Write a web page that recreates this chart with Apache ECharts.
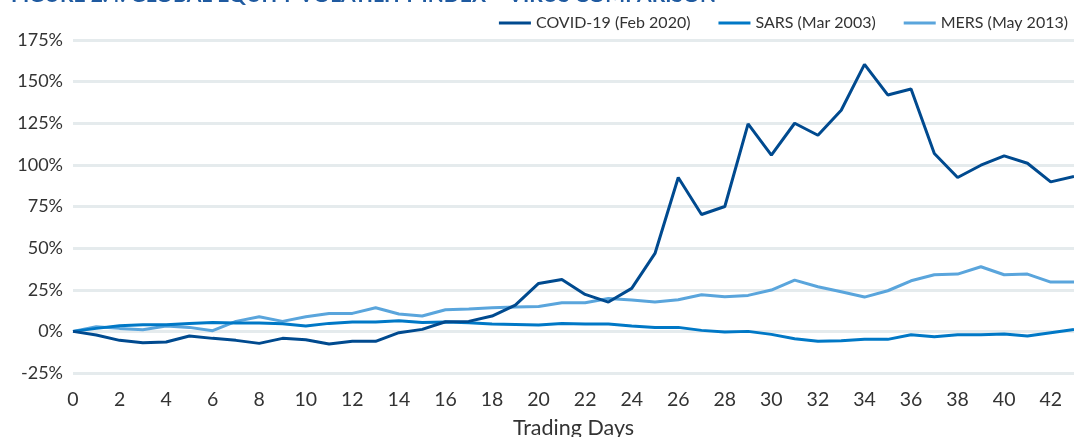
<!DOCTYPE html>
<html>
<head>
<meta charset="utf-8">
<script src="https://cdn.jsdelivr.net/npm/echarts@6/dist/echarts.min.js"></script>
<style>
html,body{margin:0;padding:0;background:#fff;}
#chart{width:1074px;height:437px;}
</style>
</head>
<body>
<div id="chart"></div>
<script>
const days = [0,1,2,3,4,5,6,7,8,9,10,11,12,13,14,15,16,17,18,19,20,21,22,23,24,25,26,27,28,29,30,31,32,33,34,35,36,37,38,39,40,41,42,43];
const covid = [0,-2.2,-5.4,-6.8,-6.4,-2.8,-4.2,-5.4,-7.2,-4.2,-5,-7.6,-6,-6,-0.8,1.2,5.8,6,9.2,15.8,28.8,31.2,22.2,17.6,25.8,46.8,92.4,70.2,75,124.6,105.8,125,117.8,132.8,160.4,142,145.6,106.8,92.4,99.8,105.4,101,89.8,93];
const sars = [0,1.8,3.4,4,4,4.8,5.4,5,5,4.6,3.2,4.8,5.6,5.6,6.4,5.4,5.6,5.2,4.4,4.2,3.8,4.8,4.4,4.4,3.2,2.4,2.4,0.6,-0.4,0,-1.8,-4.4,-6,-5.6,-4.8,-4.8,-2,-3.2,-2,-2,-1.6,-2.8,-0.8,1.2];
const mers = [0,2.8,1.8,1,3.2,2.4,0.4,6,8.8,6,8.8,10.8,10.8,14.2,10.4,9.2,13,13.4,14.2,14.6,15,17.2,17.2,19.8,18.8,17.6,19,22,20.8,21.6,24.8,30.8,26.8,23.8,20.6,24.4,30.4,34,34.4,38.8,34,34.4,29.6,29.6];
const seriesNames = ['COVID-19 (Feb 2020)','SARS (Mar 2003)','MERS (May 2013)'];
const titleText = 'FIGURE 2.4: GLOBAL EQUITY VOLATILITY INDEX – VIRUS COMPARISON';

const pair = arr => arr.map((v,i)=>[days[i], v]);
const chart = echarts.init(document.getElementById('chart'), null, {renderer:'canvas'});
const font = 'Lato, "Noto Sans", sans-serif';
chart.setOption({
  animation:false,
  textStyle:{fontFamily:font},
  title:{text:titleText, left:6, top:-20, textStyle:{fontFamily:font, fontSize:21, fontWeight:'bold', color:'#1f5aa0'}},
  legend:{
    top:10, right:1, itemWidth:32, itemHeight:3, itemGap:28, icon:'rect',
    textStyle:{fontFamily:font, fontSize:16, color:'#333'},
    data:seriesNames
  },
  grid:{left:73, right:0, top:40, bottom:64, containLabel:false, outerBoundsMode:'none'},
  xAxis:{
    type:'value', min:0, max:43, interval:2,
    axisLine:{show:false}, axisTick:{show:false}, splitLine:{show:false},
    axisLabel:{fontSize:19.5, color:'#333', margin:17, showMaxLabel:false, fontFamily:font},
    name:'Trading Days', nameLocation:'middle', nameGap:44,
    nameTextStyle:{fontSize:21.5, color:'#333', fontFamily:font}
  },
  yAxis:{
    type:'value', min:-25, max:175, interval:25,
    axisLine:{show:false}, axisTick:{show:false},
    splitLine:{lineStyle:{color:'#e5ebed', width:3}},
    axisLabel:{formatter:'{value}%', fontSize:18, color:'#333', margin:10, fontFamily:font}
  },
  series:[
    {name:seriesNames[0], type:'line', data:pair(covid), symbol:'none', lineStyle:{width:3, color:'#004a8f'}, itemStyle:{color:'#004a8f'}, z:3},
    {name:seriesNames[1], type:'line', data:pair(sars), symbol:'none', lineStyle:{width:3, color:'#0078c6'}, itemStyle:{color:'#0078c6'}, z:2},
    {name:seriesNames[2], type:'line', data:pair(mers), symbol:'none', lineStyle:{width:3, color:'#5aa5dc'}, itemStyle:{color:'#5aa5dc'}, z:1}
  ]
});
</script>
</body>
</html>
